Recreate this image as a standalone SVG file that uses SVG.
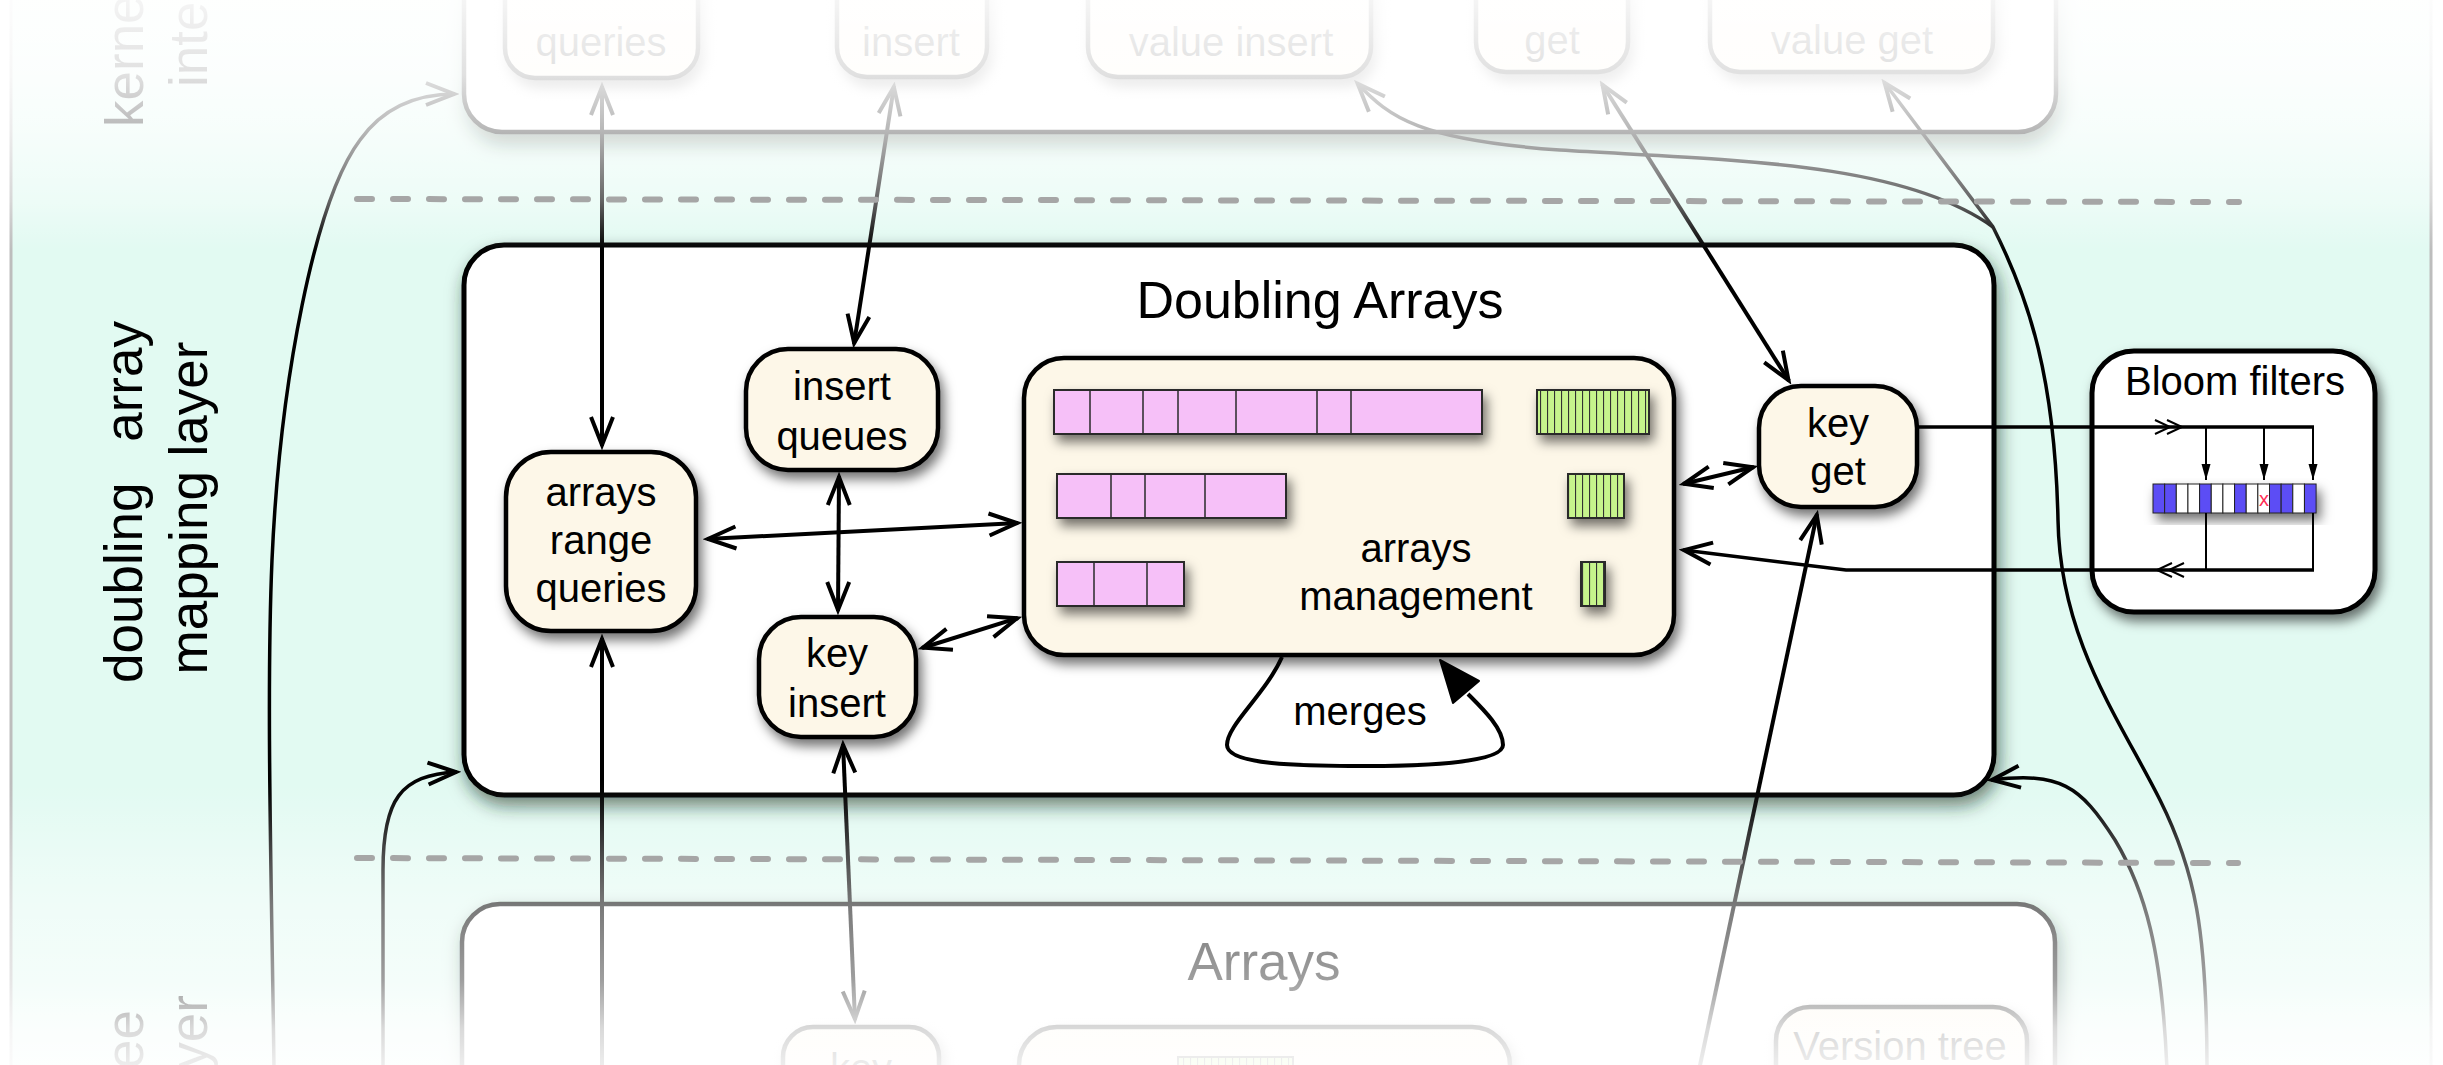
<svg xmlns="http://www.w3.org/2000/svg" width="2443" height="1065" viewBox="0 0 2443 1065">
<defs>
<style>
text{font-family:"Liberation Sans",Arial,sans-serif;fill:#000}
.node{fill:#fdf7e8;stroke:#000;stroke-width:4.5}
.lbl{font-size:40px;text-anchor:middle}
.side{font-size:53px}
.pink{fill:#f6c0f8;stroke:#2a2a2a;stroke-width:2}
.div{stroke:#2a2a2a;stroke-width:1.5}
.green{fill:url(#stripes);stroke:#2a2a2a;stroke-width:2}
.cb{fill:#5c4df5;stroke:#222;stroke-width:1}
.cw{fill:#fff;stroke:#222;stroke-width:1}
.dash{fill:none;stroke:#a6a6a6;stroke-width:6;stroke-dasharray:15 21;stroke-linecap:round}
</style>
<pattern id="stripes" width="7" height="10" patternUnits="userSpaceOnUse">
<rect width="7" height="10" fill="#c6f48c"/>
<line x1="0.5" y1="0" x2="0.5" y2="10" stroke="#333" stroke-width="1.2"/>
</pattern>
<filter id="sh" x="-20%" y="-20%" width="150%" height="160%">
<feDropShadow dx="4" dy="7" stdDeviation="6" flood-color="#000" flood-opacity="0.55"/>
</filter>
<filter id="shb" x="-10%" y="-10%" width="125%" height="130%">
<feDropShadow dx="3" dy="9" stdDeviation="9" flood-color="#0b2a22" flood-opacity="0.6"/>
</filter>
<marker id="ah" viewBox="-34 -16 38 32" refX="0" refY="0" markerWidth="38" markerHeight="32" markerUnits="userSpaceOnUse" orient="auto-start-reverse">
<path d="M-29,-11 L-1,0 L-29,11" fill="none" stroke="#000" stroke-width="4"/>
</marker>
<marker id="sa" viewBox="-18 -6 20 12" refX="0" refY="0" markerWidth="20" markerHeight="12" markerUnits="userSpaceOnUse" orient="auto">
<path d="M-16,-4.5 L0,0 L-16,4.5 Z" fill="#000"/>
</marker>
<linearGradient id="fadeTop" gradientUnits="userSpaceOnUse" x1="0" y1="0" x2="0" y2="250">
<stop offset="0" stop-color="#fff" stop-opacity="0.96"/>
<stop offset="0.3" stop-color="#fff" stop-opacity="0.88"/>
<stop offset="0.52" stop-color="#fff" stop-opacity="0.72"/>
<stop offset="0.8" stop-color="#fff" stop-opacity="0.4"/>
<stop offset="0.92" stop-color="#fff" stop-opacity="0.15"/>
<stop offset="1" stop-color="#fff" stop-opacity="0"/>
</linearGradient>
<linearGradient id="fadeBot" gradientUnits="userSpaceOnUse" x1="0" y1="780" x2="0" y2="1065">
<stop offset="0" stop-color="#fff" stop-opacity="0"/>
<stop offset="0.05" stop-color="#fff" stop-opacity="0.03"/>
<stop offset="0.27" stop-color="#fff" stop-opacity="0.3"/>
<stop offset="0.435" stop-color="#fff" stop-opacity="0.47"/>
<stop offset="0.7" stop-color="#fff" stop-opacity="0.62"/>
<stop offset="0.87" stop-color="#fff" stop-opacity="0.85"/>
<stop offset="1" stop-color="#fff" stop-opacity="0.93"/>
</linearGradient>
</defs>

<rect x="0" y="0" width="2443" height="1065" fill="#fff"/>
<rect id="layer-bg" x="11" y="-10" width="2420" height="1090" fill="#e2faf2" stroke="#bdbdbd" stroke-width="3"/>

<g id="layer-labels">
<text class="side" transform="translate(143,127) rotate(-90)">kernel</text>
<text class="side" transform="translate(207,87) rotate(-90)">interface</text>
<text class="side" text-anchor="middle" word-spacing="26" transform="translate(142,502) rotate(-90)">doubling array</text>
<text class="side" text-anchor="middle" transform="translate(207,508) rotate(-90)">mapping layer</text>
<text class="side" text-anchor="end" transform="translate(143,1010) rotate(-90)">tree</text>
<text class="side" text-anchor="end" transform="translate(207,995) rotate(-90)">layer</text>
</g>

<g id="kernel-panel">
<rect x="464" y="-60" width="1592" height="192" rx="38" fill="#fff" stroke="#000" stroke-width="4.5" filter="url(#shb)"/>
<g id="k-queries"><rect class="node" x="505" y="-40" width="193" height="118" rx="30" filter="url(#sh)"/><text class="lbl" x="601" y="56">queries</text></g>
<g id="k-insert"><rect class="node" x="837" y="-40" width="150" height="117" rx="30" filter="url(#sh)"/><text class="lbl" x="911" y="56">insert</text></g>
<g id="k-value-insert"><rect class="node" x="1088" y="-40" width="283" height="117" rx="30" filter="url(#sh)"/><text class="lbl" x="1231" y="56">value insert</text></g>
<g id="k-get"><rect class="node" x="1476" y="-40" width="152" height="112" rx="30" filter="url(#sh)"/><text class="lbl" x="1552" y="54">get</text></g>
<g id="k-value-get"><rect class="node" x="1710" y="-40" width="283" height="112" rx="30" filter="url(#sh)"/><text class="lbl" x="1852" y="54">value get</text></g>
</g>

<g id="arrays-panel">
<rect x="462" y="904" width="1593" height="300" rx="38" fill="#fff" stroke="#000" stroke-width="4.5" filter="url(#shb)"/>
<text x="1264" y="980" font-size="53" text-anchor="middle">Arrays</text>
<g id="a-key"><rect class="node" x="783" y="1027" width="156" height="120" rx="30" filter="url(#sh)"/><text class="lbl" x="861" y="1082">key</text></g>
<g id="a-store"><rect class="node" x="1019" y="1027" width="491" height="120" rx="38" filter="url(#sh)"/><rect class="green" x="1178" y="1057" width="115" height="44"/></g>
<g id="a-version-tree"><rect class="node" x="1776" y="1007" width="251" height="120" rx="34" filter="url(#sh)"/><text class="lbl" x="1900" y="1060">Version tree</text></g>
</g>

<g id="doubling-arrays">
<rect x="464" y="245" width="1530" height="550" rx="40" fill="#fff" stroke="#000" stroke-width="5" filter="url(#shb)"/>
<text x="1320" y="318" font-size="52" text-anchor="middle">Doubling Arrays</text>
</g>

<g id="bloom-filters">
<rect x="2092" y="351" width="283" height="261" rx="42" fill="#fff" stroke="#000" stroke-width="5" filter="url(#sh)"/>
<text class="lbl" x="2235" y="395">Bloom filters</text>
<g filter="url(#sh)">
<rect class="cb" x="2153" y="484" width="11.65" height="29"/>
<rect class="cb" x="2164.65" y="484" width="11.65" height="29"/>
<rect class="cw" x="2176.3" y="484" width="11.65" height="29"/>
<rect class="cw" x="2187.95" y="484" width="11.65" height="29"/>
<rect class="cb" x="2199.6" y="484" width="11.65" height="29"/>
<rect class="cw" x="2211.25" y="484" width="11.65" height="29"/>
<rect class="cw" x="2222.9" y="484" width="11.65" height="29"/>
<rect class="cb" x="2234.55" y="484" width="11.65" height="29"/>
<rect class="cw" x="2246.2" y="484" width="11.65" height="29"/>
<rect class="cw" x="2257.85" y="484" width="11.65" height="29"/>
<rect class="cb" x="2269.5" y="484" width="11.65" height="29"/>
<rect class="cb" x="2281.15" y="484" width="11.65" height="29"/>
<rect class="cw" x="2292.8" y="484" width="11.65" height="29"/>
<rect class="cb" x="2304.45" y="484" width="11.65" height="29"/>
</g>
<text x="2264" y="506" font-size="20" text-anchor="middle" style="fill:#ff2d55">x</text>
</g>

<g id="arrays-range-queries"><rect class="node" x="506" y="452" width="190" height="179" rx="45" filter="url(#sh)"/>
<text class="lbl" x="601" y="506">arrays</text><text class="lbl" x="601" y="554">range</text><text class="lbl" x="601" y="602">queries</text></g>

<g id="insert-queues"><rect class="node" x="746" y="349" width="192" height="121" rx="42" filter="url(#sh)"/>
<text class="lbl" x="842" y="400">insert</text><text class="lbl" x="842" y="450">queues</text></g>

<g id="key-insert"><rect class="node" x="759" y="617" width="157" height="120" rx="42" filter="url(#sh)"/>
<text class="lbl" x="837" y="667">key</text><text class="lbl" x="837" y="717">insert</text></g>

<g id="key-get"><rect class="node" x="1759" y="386" width="158" height="121" rx="42" filter="url(#sh)"/>
<text class="lbl" x="1838" y="437">key</text><text class="lbl" x="1838" y="485">get</text></g>

<g id="arrays-management">
<rect class="node" x="1024" y="358" width="650" height="297" rx="40" filter="url(#sh)"/>
<g filter="url(#sh)">
<rect class="pink" x="1054" y="390" width="428" height="44"/>
<rect class="green" x="1537" y="390" width="112" height="44"/>
<rect class="pink" x="1057" y="474" width="229" height="44"/>
<rect class="green" x="1568" y="474" width="56" height="44"/>
<rect class="pink" x="1057" y="562" width="127" height="44"/>
<rect class="green" x="1581" y="562" width="24" height="44"/>
</g>
<path class="div" d="M1090,390V434M1143,390V434M1178,390V434M1236,390V434M1317,390V434M1351,390V434M1111,474V518M1145,474V518M1205,474V518M1094,562V606M1147,562V606"/>
<text class="lbl" x="1416" y="562">arrays</text><text class="lbl" x="1416" y="610">management</text>
</g>

<g id="connectors" fill="none" stroke="#000" stroke-width="4">
<path d="M602,86 L602,446" marker-start="url(#ah)" marker-end="url(#ah)"/>
<path d="M602,1070 L602,638" marker-end="url(#ah)"/>
<path d="M894,86 L854,344" marker-start="url(#ah)" marker-end="url(#ah)"/>
<path d="M839,476 L838,611" marker-start="url(#ah)" marker-end="url(#ah)"/>
<path d="M707,539 L1018,523" marker-start="url(#ah)" marker-end="url(#ah)"/>
<path d="M922,648 L1018,618" marker-start="url(#ah)" marker-end="url(#ah)"/>
<path d="M843,744 L855,1020" marker-start="url(#ah)" marker-end="url(#ah)"/>
<path d="M1602,84 L1789,381" marker-start="url(#ah)" marker-end="url(#ah)"/>
<path d="M1683,484 L1754,467" marker-start="url(#ah)" marker-end="url(#ah)"/>
<path d="M1699,1070 L1817,514" marker-end="url(#ah)"/>
<path d="M1917,427 L2314,427" stroke-width="3.5"/>
<path d="M2314,570 L1846,570 L1683,550" stroke-width="3.5" marker-end="url(#ah)"/>
<g id="merges">
<path d="M1282,657 C1265,695 1227,725 1227,745 C1227,765 1300,766 1365,766 C1430,766 1503,762 1503,745 C1503,728 1482,708 1468,694"/>
<path d="M1440,660 L1453,703 L1479,681 Z" fill="#000" stroke="#000" stroke-width="2" stroke-linejoin="round"/>
<text class="lbl" x="1360" y="725" stroke="none">merges</text>
</g>
<path d="M274,1070 C272,900 266,700 272,560 C280,380 315,200 360,140 C385,105 420,94 455,94" stroke-width="3.5" marker-end="url(#ah)"/>
<path d="M383,1070 L383,870 C383,800 400,775 457,772" stroke-width="3.5" marker-end="url(#ah)"/>
<path d="M1357,83 C1390,118 1420,140 1560,150 C1720,160 1900,160 1993,227" stroke-width="3.5" marker-start="url(#ah)"/>
<path d="M1884,82 L1993,227 C2030,300 2055,380 2058,520 C2060,640 2120,720 2160,800 C2195,870 2207,930 2207,1070" stroke-width="3.5" marker-start="url(#ah)"/>
<path d="M2167,1070 C2162,950 2145,890 2115,840 C2080,785 2060,772 1991,780" stroke-width="3.5" marker-end="url(#ah)"/>
<g stroke-width="2">
<path d="M2206,427 L2206,480" marker-end="url(#sa)"/>
<path d="M2264,427 L2264,480" marker-end="url(#sa)"/>
<path d="M2313,427 L2313,480" marker-end="url(#sa)"/>
<path d="M2206,513 L2206,570 M2313,513 L2313,570"/>
<path d="M2155,420 L2170,427 L2155,434 M2167,420 L2182,427 L2167,434"/>
<path d="M2184,563 L2169,570 L2184,577 M2172,563 L2157,570 L2172,577"/>
</g>
</g>

<rect x="0" y="0" width="2443" height="250" fill="url(#fadeTop)"/>
<rect x="0" y="780" width="2443" height="285" fill="url(#fadeBot)"/>

<g id="layer-separators">
<path class="dash" d="M357,199 L2239,202"/>
<path class="dash" d="M357,858 L2238,863"/>
</g>
</svg>
